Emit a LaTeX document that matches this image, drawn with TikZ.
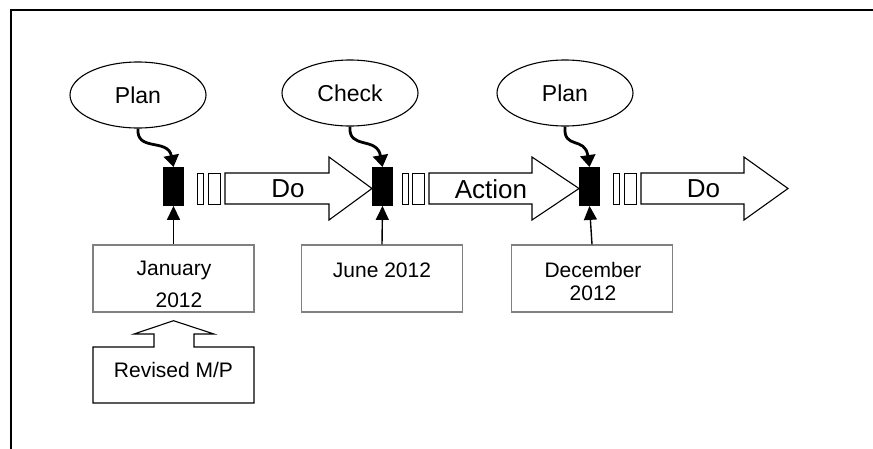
\documentclass[tikz,border=0pt]{standalone}
\usepackage{fontspec}
\setmainfont{Liberation Sans}
\usetikzlibrary{shapes.geometric,arrows.meta}
\begin{document}
\begin{tikzpicture}[x=1pt,y=-1pt,
  phase/.style={draw,line width=1.1pt,ellipse,minimum width=136pt,minimum height=66pt,inner sep=0pt,font=\fontsize{23}{26}\selectfont},
  bar/.style={draw,fill=black,line width=0.8pt,minimum width=20pt,minimum height=38pt,inner sep=0pt},
  slim/.style={draw,line width=0.9pt,minimum height=31pt,inner sep=0pt},
  blockarr/.style={draw,line width=1.1pt,fill=white,line join=miter},
  arrtext/.style={font=\fontsize{26}{30}\selectfont,inner sep=0pt},
  datebox/.style={draw=black!50,line width=1.4pt,minimum width=161pt,minimum height=67pt,inner sep=0pt},
  datetext/.style={font=\fontsize{21}{24}\selectfont,inner sep=0pt},
  feed/.style={line width=2.8pt,-{Triangle[length=12pt,width=15pt]}},
  up/.style={line width=1.4pt,-{Triangle[length=14pt,width=13pt]}}]
\useasboundingbox (0,0) rectangle (873,448);
\fill[white] (0,0) rectangle (873,448);
% frame
\draw[line width=2pt] (10.5,460) -- (10.5,9.5) -- (890,9.5);

% ellipses
\node[phase] (e1) at (138,95) {Plan};
\node[phase] (e2) at (350,93) {Check};
\node[phase] (e3) at (565,93) {Plan};

% bars
\node[bar] (b1) at (173.5,186.5) {};
\node[bar] (b2) at (382.5,186.5) {};
\node[bar] (b3) at (589.5,186.5) {};

% slim rectangles
\node[slim,minimum width=6pt] (s1a) at (200,188.5) {};
\node[slim,minimum width=12pt] (s1b) at (214,188.5) {};
\node[slim,minimum width=6pt] (s2a) at (405,188.5) {};
\node[slim,minimum width=12pt] (s2b) at (418,188.5) {};
\node[slim,minimum width=6pt] (s3a) at (616.5,188.5) {};
\node[slim,minimum width=12pt] (s3b) at (630,188.5) {};

% block arrows
\draw[blockarr] (225,173) -- (329,173) -- (329,157) -- (372,188.5) -- (329,220) -- (329,204) -- (225,204) -- cycle;
\node[arrtext] (t1) at (288,189) {Do};
\draw[blockarr] (429,173) -- (532,173) -- (532,157) -- (579,188.5) -- (532,220) -- (532,204) -- (429,204) -- cycle;
\node[arrtext] (t2) at (491,189) {Action};
\draw[blockarr] (641,173) -- (744,173) -- (744,157) -- (788,188.5) -- (744,220) -- (744,204) -- (641,204) -- cycle;
\node[arrtext] (t3) at (703.5,189) {Do};

% curvy feeds
\draw[feed] (e1.south) .. controls (136,152) and (168,138) .. (b1.north);
\draw[feed] (e2.south) .. controls (348,150) and (377,136) .. (b2.north);
\draw[feed] (e3.south) .. controls (563,150) and (585,136) .. (b3.north);

% date boxes
\node[datebox] (d1) at (173.5,278.5) {};
\node[datetext] (d1a) at (174,270) {January};
\node[datetext] (d1b) at (179,300) {2012};
\node[datebox] (d2) at (382,278.5) {};
\node[datetext] (d2a) at (382,270) {June 2012};
\node[datebox] (d3) at (592,278.5) {};
\node[datetext] (d3a) at (593,270) {December};
\node[datetext] (d3b) at (593,293) {2012};

\draw[up] (d1.north) -- (b1.south);
\draw[up] (d2.north) -- (b2.south);
\draw[up] (d3.north) -- (b3.south);

% revised M/P with block arrow
\coordinate (rtip) at (d1.south);
\draw[line width=1.1pt,line join=miter] (93,347) -- (154,347) -- (154,334) -- (134,334) -- ([yshift=-8pt]rtip) -- (214,334) -- (194,334) -- (194,347) -- (254,347) -- (254,403) -- (93,403) -- cycle;
\node[datetext] (r1) at (173.5,370) {Revised M/P};
\end{tikzpicture}
\end{document}
